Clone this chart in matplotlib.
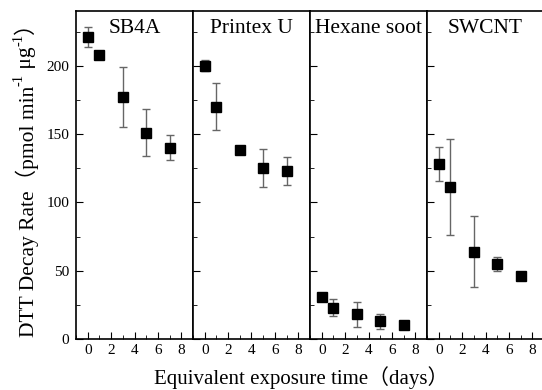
import matplotlib
matplotlib.use("Agg")
import matplotlib.pyplot as plt
from matplotlib.ticker import MultipleLocator

plt.rcParams['font.family'] = ['Liberation Serif', 'Noto Sans CJK SC', 'DejaVu Sans']

# data
days = [0, 1, 3, 5, 7]
names = ["SB4A", "Printex U", "Hexane soot", "SWCNT"]
sb4a = [221, 208, 177, 151, 140]
sb4a_err = [7, 0, 22, 17, 9]
printex = [200, 170, 138, 125, 123]
printex_err = [4, 17, 2, 14, 10]
hexane = [31, 23, 18, 13, 10]
hexane_err = [0, 6.5, 9, 5.5, 0]
swcnt = [128, 111, 64, 55, 46]
swcnt_err = [12.5, 35, 26, 5, 0]

values = [sb4a, printex, hexane, swcnt]
errors = [sb4a_err, printex_err, hexane_err, swcnt_err]

fig = plt.figure(figsize=(5.42, 3.90), dpi=100)
left, bottom, top = 76 / 542, 1 - 339 / 390, 1 - 11 / 390
w = 117 / 542

for i in range(4):
    ax = fig.add_axes([left + i * w, bottom, w, top - bottom])
    ax.errorbar(days, values[i], yerr=errors[i], fmt='s', color='black',
                ms=6.5, ecolor='#666666', elinewidth=1, capsize=3,
                capthick=1)
    ax.set_xlim(-1, 9)
    ax.set_ylim(0, 240)
    ax.xaxis.set_major_locator(MultipleLocator(2))
    ax.xaxis.set_minor_locator(MultipleLocator(1))
    ax.yaxis.set_major_locator(MultipleLocator(50))
    ax.yaxis.set_minor_locator(MultipleLocator(25))
    ax.tick_params(which='both', direction='in', top=False, right=False,
                   labelsize=11)
    ax.tick_params(axis='y', pad=5)
    ax.tick_params(which='major', length=5)
    ax.tick_params(which='minor', length=3)
    for s in ax.spines.values():
        s.set_linewidth(1.2)
    if i > 0:
        ax.set_yticklabels([])
    ax.text(0.5, 0.975, names[i], transform=ax.transAxes, ha='center',
            va='top', fontsize=15.5)

fig.text(0.555, 0.033, "Equivalent exposure time（days）", ha='center',
         va='center', fontsize=15)

# y label built from pieces so the superscripts and full-width brackets both work
pieces = [("DTT Decay Rate（pmol min", 15.5, 0), ("-1", 10.5, -8),
          (" μg", 15.5, 0), ("-1", 10.5, -8), ("）", 15.5, 0)]
renderer = fig.canvas.get_renderer()
xc, y = 27, 53  # pixel coords
for s, fs, dx in pieces:
    t = fig.text((xc + dx) / 542, y / 390, s, rotation=90, ha='center',
                 va='bottom', fontsize=fs)
    bb = t.get_window_extent(renderer)
    y = bb.y1

fig.savefig("out.png", dpi=100)
